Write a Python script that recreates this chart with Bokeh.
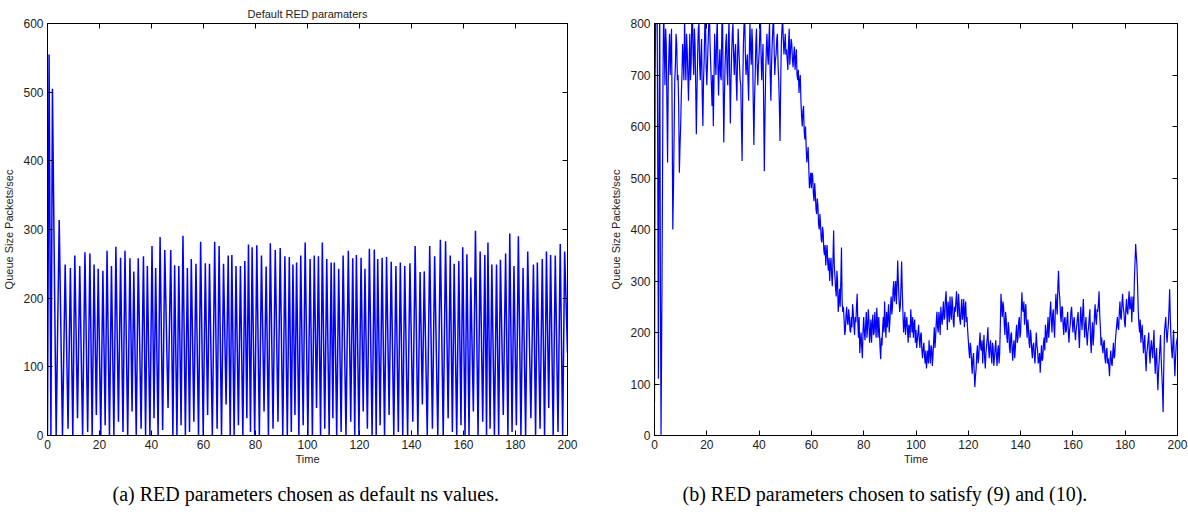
import numpy as np
from bokeh.plotting import figure
from bokeh.models import Range1d, LinearAxis, FixedTicker, Title
from bokeh.layouts import row
from bokeh.embed import file_html
from bokeh.resources import INLINE

# ---------------- Left panel: default RED parameters (peaks / troughs) ----------------
left_peak_t = [0.6, 1.9, 4.5, 6.8, 8.8, 10.5, 12.4, 14.4, 16.3, 17.9,
               19.5, 21.3, 22.9, 24.6, 26.3, 28.1, 29.8, 31.7, 33.2, 34.9,
               36.9, 38.4, 40.2, 41.6, 43.3, 45.1, 47.4, 48.9, 50.5, 52.1,
               53.8, 55.3, 57.1, 58.9, 60.7, 62.3, 64.3, 66.0, 67.7, 69.5,
               70.9, 72.5, 74.2, 75.9, 77.3, 78.7, 80.5, 82.3, 84.1, 85.7,
               87.6, 89.5, 91.3, 93.0, 94.4, 95.8, 97.4, 99.1, 101.0, 102.6,
               104.2, 105.7, 107.4, 109.1, 110.3, 112.0, 113.7, 115.7, 117.4, 118.8,
               120.6, 122.1, 123.8, 125.7, 127.0, 128.7, 130.4, 132.2, 134.0, 135.7,
               137.4, 139.4, 141.4, 143.3, 144.9, 147.0, 148.9, 151.1, 153.1, 154.9,
               156.4, 158.2, 159.7, 161.3, 162.8, 164.6, 166.4, 168.2, 169.4, 170.9,
               172.7, 174.2, 176.2, 177.8, 179.4, 181.1, 182.9, 184.7, 186.9, 188.4,
               190.3, 191.9, 193.5, 195.3, 197.2, 198.9]
left_peak_q = [555, 505, 314, 249, 244, 262, 247, 267, 265, 249,
               243, 240, 269, 247, 275, 259, 269, 258, 239, 258,
               261, 247, 276, 244, 289, 270, 270, 248, 247, 291,
               244, 257, 250, 282, 251, 250, 282, 276, 250, 262,
               263, 247, 247, 254, 278, 274, 277, 262, 246, 280,
               270, 273, 261, 260, 249, 252, 262, 281, 257, 262,
               261, 281, 257, 252, 252, 243, 262, 269, 258, 263,
               259, 243, 272, 271, 257, 259, 260, 253, 247, 252,
               247, 251, 276, 238, 239, 276, 261, 285, 283, 262,
               250, 254, 274, 264, 230, 298, 268, 263, 281, 249,
               249, 256, 265, 294, 247, 290, 244, 268, 249, 252,
               257, 268, 263, 262, 279, 268]
left_trough_q = [0, 0, 0, 10, 0, 25, 0, 5, 0, 30,
                 0, 15, 0, 0, 20, 5, 0, 35, 0, 10,
                 0, 0, 25, 0, 8, 40, 0, 0, 15, 0,
                 5, 20, 0, 0, 30, 0, 10, 0, 45, 0,
                 0, 15, 0, 25, 5, 0, 0, 35, 0, 10,
                 20, 0, 0, 5, 30, 0, 15, 0, 0, 40,
                 0, 10, 0, 25, 0, 5, 0, 20, 0, 0,
                 35, 10, 0, 0, 15, 0, 30, 0, 5, 0,
                 0, 20, 0, 45, 0, 10, 0, 0, 25, 5,
                 0, 15, 0, 0, 35, 0, 20, 0, 10, 0,
                 0, 30, 0, 5, 15, 0, 0, 25, 0, 10,
                 0, 40, 0, 5, 0]
left_start_q = 0
left_end_q = 120

# ---------------- Right panel: tuned RED parameters ----------------
# samples on the half-second grid
right_dt = 0.5
right_q = [
    65, 840, 860, 110, 850, 0, 420, 830, 680, 760, 530, 740, 700, 790, 400, 580, 720, 760, 700, 510,
    600, 700, 730, 810, 690, 750, 650, 780, 720, 820, 700, 760, 585, 740, 800, 690, 770, 601, 730, 810,
    680, 760, 820, 720, 640, 601, 780, 700, 810, 660, 750, 690, 830, 569, 720, 780, 680, 810, 606, 740,
    800, 700, 760, 650, 790, 720, 680, 533, 760, 810, 700, 740, 650, 800, 720, 760, 564, 700, 790, 680,
    740, 810, 690, 760, 513, 700, 780, 720, 800, 650, 760, 820, 700, 740, 780, 690, 572, 760, 810, 740,
    780, 750, 710, 790, 745, 760, 715, 755, 730, 700, 710, 690, 650, 600, 640, 575, 560, 545, 520, 495,
    480, 505, 455, 470, 430, 445, 400, 410, 375, 395, 350, 330, 370, 320, 300, 345, 290, 398, 310, 270,
    300, 260, 250, 365, 240, 225, 205, 250, 215, 230, 200, 210, 240, 195, 220, 275, 190, 160, 200, 150,
    230, 185, 240, 210, 225, 200, 180, 235, 200, 215, 248, 190, 205, 148, 175, 230, 260, 190, 210, 255,
    220, 270, 250, 300, 280, 255, 340, 265, 250, 338, 240, 215, 195, 230, 180, 210, 245, 200, 190, 225,
    205, 185, 215, 170, 200, 150, 180, 140, 130, 165, 185, 140, 170, 155, 210, 190, 240, 200, 225, 250,
    215, 260, 230, 280, 205, 245, 270, 225, 255, 210, 240, 280, 230, 255, 215, 265, 240, 210, 260, 230,
    185, 150, 170, 120, 160, 94, 130, 175, 150, 200, 165, 140, 195, 130, 175, 210, 150, 185, 140, 170,
    150, 185, 135, 175, 160, 275, 230, 250, 195, 225, 180, 210, 160, 200, 145, 185, 170, 215, 190, 230,
    200, 278, 240, 215, 255, 190, 210, 170, 195, 150, 180, 140, 200, 165, 145, 122, 175, 150, 190, 215,
    180, 230, 210, 260, 200, 245, 190, 275, 235, 320, 265, 220, 250, 195, 230, 205, 240, 180, 215, 250,
    200, 230, 185, 215, 240, 170, 250, 205, 265, 190, 230, 175, 210, 245, 160, 220, 195, 255, 215, 240,
    280, 210, 190, 160, 185, 140, 170, 150, 115, 165, 135, 180, 155, 200, 230, 205, 260, 225, 275, 240,
    210, 265, 235, 280, 250, 220, 270, 300, 372, 330, 240, 200, 180, 215, 160, 195, 125, 170, 200, 140,
    185, 150, 205, 120, 170, 88, 145, 195, 120, 45, 200, 230, 180, 215, 284, 190, 150, 205, 115, 175,
    190]
# samples a quarter second after each of the above (read between them)
right_q_mid = [
    700, 900, 500, 600, 300, 200, 700, 760, 790, 640, 690, 780, 750, 620, 480, 690, 780, 690, 640, 560,
    660, 760, 690, 740, 780, 700, 720, 690, 800, 740, 790, 680, 670, 790, 720, 740, 660, 690, 800, 720,
    720, 800, 760, 680, 700, 690, 730, 770, 720, 720, 700, 790, 680, 660, 760, 710, 760, 700, 690, 780,
    740, 740, 690, 730, 750, 690, 600, 680, 800, 740, 720, 690, 740, 750, 790, 650, 650, 760, 720, 720,
    780, 740, 730, 640, 620, 750, 740, 770, 700, 720, 790, 750, 730, 770, 720, 640, 680, 790, 770, 760,
    740, 730, 760, 720, 770, 730, 740, 710, 750, 690, 665, 700, 620, 630, 590, 600, 530, 560, 480, 510,
    510, 470, 490, 440, 460, 410, 430, 380, 405, 360, 370, 355, 335, 345, 330, 310, 340, 330, 285, 320,
    240, 285, 300, 260, 250, 195, 235, 220, 245, 205, 230, 255, 215, 230, 250, 220, 230, 185, 170, 205,
    200, 215, 190, 245, 180, 225, 215, 195, 240, 190, 220, 230, 170, 190, 210, 200, 215, 240, 230, 200,
    250, 235, 285, 260, 300, 290, 300, 240, 290, 280, 200, 240, 220, 205, 215, 190, 220, 230, 215, 180,
    170, 200, 185, 195, 165, 170, 155, 165, 150, 140, 160, 175, 135, 185, 170, 220, 210, 240, 195, 230,
    240, 225, 265, 240, 260, 220, 240, 270, 220, 250, 260, 245, 275, 225, 245, 225, 265, 245, 220, 205,
    165, 180, 140, 150, 125, 115, 160, 140, 180, 170, 185, 170, 150, 160, 190, 170, 175, 155, 180, 135,
    170, 155, 165, 140, 215, 250, 260, 215, 240, 190, 220, 170, 195, 165, 175, 150, 200, 180, 220, 190,
    240, 245, 260, 240, 215, 225, 180, 205, 165, 175, 155, 170, 175, 140, 160, 150, 145, 180, 165, 200,
    205, 190, 240, 225, 235, 210, 240, 250, 290, 280, 235, 250, 215, 225, 200, 225, 200, 205, 240, 225,
    220, 200, 205, 230, 195, 215, 225, 240, 220, 215, 195, 200, 230, 185, 200, 175, 235, 225, 245, 255,
    235, 175, 170, 180, 150, 165, 140, 135, 150, 140, 160, 150, 185, 215, 210, 240, 230, 255, 250, 220,
    245, 240, 260, 245, 270, 250, 240, 335, 350, 290, 215, 225, 200, 185, 180, 150, 160, 185, 160, 170,
    165, 180, 150, 155, 120, 125, 170, 150, 90, 130, 215, 200, 200, 245, 230, 165, 180, 150, 150, 185]

x_ticks = [0, 20, 40, 60, 80, 100, 120, 140, 160, 180, 200]
left_y_ticks = [0, 100, 200, 300, 400, 500, 600]
right_y_ticks = [0, 100, 200, 300, 400, 500, 600, 700, 800]

title_left = "Default RED paramaters"
caption_left = "(a) RED parameters chosen as default ns values."
caption_right = "(b) RED parameters chosen to satisfy (9) and (10)."
x_label = "Time"
y_label = "Queue Size Packets/sec"

# build left polyline: start, then peak / trough alternating
lt = [0.0]
lq = [left_start_q]
for i in range(len(left_peak_t)):
    lt.append(left_peak_t[i])
    lq.append(left_peak_q[i])
    if i < len(left_peak_t) - 1:
        lt.append(left_peak_t[i] + 0.55 * (left_peak_t[i + 1] - left_peak_t[i]))
        lq.append(left_trough_q[i])
lt.append(200.0)
lq.append(left_end_q)

# build right polyline: grid samples interleaved with the quarter-second samples
rt, rq = [], []
for i, v in enumerate(right_q):
    rt.append(i * right_dt)
    rq.append(v)
    if i < len(right_q_mid):
        rt.append(i * right_dt + right_dt / 2)
        rq.append(right_q_mid[i])

SANS = "Liberation Sans"
BLUE = "#0000ff"


def style_axis(ax, ticks, show_labels=True):
    ax.ticker = FixedTicker(ticks=ticks)
    ax.major_tick_in = 5
    ax.major_tick_out = 0
    ax.minor_tick_in = 0
    ax.minor_tick_out = 0
    ax.axis_line_color = "black"
    ax.axis_line_width = 1
    ax.major_tick_line_color = "black"
    ax.major_label_text_font = SANS
    if show_labels:
        ax.major_label_text_color = "#222222"
        ax.major_label_text_font_size = "12px"
        ax.major_label_standoff = 4
    else:
        ax.major_label_text_color = None
        ax.major_label_text_font_size = "1px"
        ax.major_label_standoff = 0
    ax.axis_label_text_font = SANS
    ax.axis_label_text_font_size = "11px"
    ax.axis_label_text_font_style = "normal"
    ax.axis_label_text_color = "#222222"


def make_panel(t, q, ymax, yticks, border_left, border_right, caption, cap_offset, lw, title=None):
    p = figure(width=594, height=521,
               x_range=Range1d(0, 200), y_range=Range1d(0, ymax),
               output_backend="svg", toolbar_location=None,
               min_border_left=border_left, min_border_right=border_right,
               min_border_top=23, min_border_bottom=86,
               background_fill_color="white", border_fill_color="white")
    p.xgrid.visible = False
    p.ygrid.visible = False
    p.outline_line_color = "black"
    p.outline_line_width = 1
    p.line(t, q, line_color=BLUE, line_width=lw)

    style_axis(p.xaxis[0], x_ticks)
    style_axis(p.yaxis[0], yticks)
    p.xaxis[0].axis_label = x_label
    p.xaxis[0].axis_label_standoff = 1
    p.yaxis[0].axis_label = y_label
    p.yaxis[0].axis_label_standoff = 5

    top = LinearAxis()
    style_axis(top, x_ticks, show_labels=False)
    p.add_layout(top, "above")
    right = LinearAxis()
    style_axis(right, yticks, show_labels=False)
    p.add_layout(right, "right")

    if title:
        p.title.text = title
        p.title.align = "center"
        p.title.text_font = SANS
        p.title.text_font_size = "11px"
        p.title.text_font_style = "normal"
        p.title.text_color = "#222222"
        p.title.standoff = 8

    cap = Title(text=caption, align="left", offset=cap_offset,
                text_font="Liberation Serif", text_font_size="20px",
                text_font_style="normal", text_color="black", standoff=26)
    p.add_layout(cap, "below")
    return p


p1 = make_panel(lt, lq, 600, left_y_ticks, 45, 27, caption_left, 65, 1.5, title_left)
p2 = make_panel(rt, rq, 800, right_y_ticks, 60, 11, caption_right, 28, 1.2)

layout = row(p1, p2)
open("out.html", "w").write(file_html(layout, INLINE))
